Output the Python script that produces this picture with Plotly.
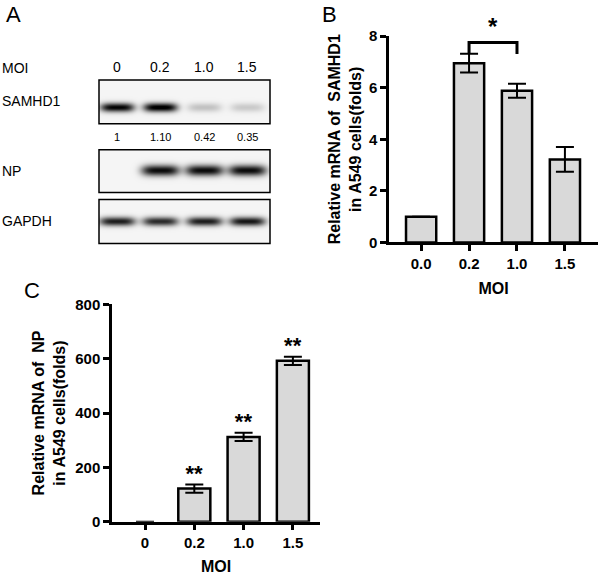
import numpy as np
import plotly.graph_objects as go

# Panel B: SAMHD1 mRNA
moi_b = ["0.0", "0.2", "1.0", "1.5"]
samhd1_mrna = [1.0, 6.95, 5.88, 3.22]
samhd1_err = [0.0, 0.36, 0.27, 0.48]

# Panel C: NP mRNA
moi_c = ["0", "0.2", "1.0", "1.5"]
np_mrna = [0.0, 122, 312, 592]
np_err = [0.0, 15, 15, 15]
np_sig = ["", "**", "**", "**"]

# Panel A: western blot band intensities (0 = none, 1 = darkest)
moi_a = ["0", "0.2", "1.0", "1.5"]
samhd1_band = [0.95, 1.0, 0.2, 0.17]
np_band = [0.0, 0.92, 0.92, 0.92]
gapdh_band = [0.85, 0.8, 0.85, 0.88]
quant = ["1", "1.10", "0.42", "0.35"]

W, H = 598, 575
FONT = "Liberation Sans, Arial"
BAR = "#d9d9d9"


def px(x):
    return x / W


def py(y):
    # screen capture squeezes vertically a little; compensate
    y = (y - 7.9) / 0.973
    return 1 - y / H


fig = go.Figure()


def label(x, y, text, size, xanchor="center", weight="normal"):
    fig.add_annotation(x=px(x), y=py(y), xref="paper", yref="paper", text=text,
                       showarrow=False, xanchor=xanchor, yanchor="middle",
                       font=dict(family=FONT, size=size, color="black", weight=weight))


# ---------- blot panel ----------
lane_x = [117, 160, 204, 247]
blots = [("SAMHD1", samhd1_band, 79, 123, 107, 4.5, 17),
         ("NP", np_band, 149, 192, 170, 5.5, 19),
         ("GAPDH", gapdh_band, 199, 243, 221, 4.5, 18)]
xs = np.arange(99, 271, 1.0)
for i, (name, band, top, bot, cy, hh, hw) in enumerate(blots):
    ys = np.arange(top, bot + 1, 1.0)
    z = np.full((len(ys), len(xs)), 0.04)
    for lx, b in zip(lane_x, band):
        gx = np.exp(-((xs - lx) / hw) ** 4)
        gy = np.exp(-((ys - cy) / hh) ** 2)
        z += b * np.outer(gy, gx)
    z = np.clip(z, 0, 1)
    ax = "" if i == 0 else str(i + 3)
    fig.add_trace(go.Heatmap(x=xs, y=ys, z=z, zmin=0, zmax=1, showscale=False,
                             colorscale=[[0, "white"], [1, "black"]],
                             xaxis="x" + ax, yaxis="y" + ax, hoverinfo="skip"))
    fig.layout["xaxis" + ax] = dict(domain=[px(99), px(270)], range=[99, 270],
                                    visible=False, anchor="y" + ax)
    fig.layout["yaxis" + ax] = dict(domain=[py(bot), py(top)], range=[bot, top],
                                    visible=False, anchor="x" + ax)
    fig.add_shape(type="rect", xref="paper", yref="paper", x0=px(99), x1=px(270),
                  y0=py(bot), y1=py(top), line=dict(color="black", width=1.5))
    label(0, [100, 170, 220][i], name, 14, xanchor="left")

label(0, 67, "MOI", 14, xanchor="left")
for lx, lab, q in zip(lane_x, moi_a, quant):
    label(lx, 66, lab, 14)
    label(lx, 136, q, 11)

# ---------- panel B ----------
fig.add_trace(go.Bar(x=list(range(4)), y=samhd1_mrna, width=0.63, xaxis="x2", yaxis="y2",
                     marker=dict(color=BAR, line=dict(color="black", width=2.5)),
                     error_y=dict(type="data", array=samhd1_err, color="black",
                                  thickness=2, width=9)))
# ---------- panel C ----------
fig.add_trace(go.Bar(x=list(range(4)), y=np_mrna, width=0.65, xaxis="x3", yaxis="y3",
                     marker=dict(color=BAR, line=dict(color="black", width=[0, 2.5, 2.5, 2.5])),
                     error_y=dict(type="data", array=np_err, color="black",
                                  thickness=2, width=9),
                     text=np_sig, textposition="outside", cliponaxis=False,
                     textfont=dict(family=FONT, size=22, color="black", weight="bold")))

bold_tick = dict(family=FONT, size=15, color="black", weight="bold")
title_font = dict(family=FONT, size=16, color="black", weight="bold")
axis_common = dict(showline=True, linecolor="black", linewidth=2.5, ticks="outside",
                   tickwidth=2.5, ticklen=6, tickcolor="black", showgrid=False, zeroline=False,
                   tickfont=bold_tick)
fig.update_layout(
    xaxis2=dict(axis_common, domain=[px(389), 1], range=[-0.67, 3.69], anchor="y2",
                tickvals=list(range(4)), ticktext=moi_b,
                title=dict(text="MOI", font=title_font, standoff=12)),
    yaxis2=dict(axis_common, domain=[py(242), py(35)], range=[0, 8], anchor="x2",
                tickvals=[0, 2, 4, 6, 8],
                title=dict(text="Relative mRNA of  SAMHD1<br>in A549 cells(folds)",
                           font=title_font, standoff=4)),
    xaxis3=dict(axis_common, domain=[px(112), px(320)], range=[-0.67, 3.55], anchor="y3",
                tickvals=list(range(4)), ticktext=moi_c,
                title=dict(text="MOI", font=title_font, standoff=12)),
    yaxis3=dict(axis_common, domain=[py(522), py(304)], range=[0, 800], anchor="x3",
                tickvals=[0, 200, 400, 600, 800],
                title=dict(text="Relative mRNA of  NP<br>in A549 cells(folds)",
                           font=title_font, standoff=6)),
)

# significance bracket in B
fig.add_shape(type="path", xref="x2", yref="y2", path="M 1,7.3 L 1,7.75 L 2,7.75 L 2,7.3",
              line=dict(color="black", width=3))
fig.add_annotation(x=1.5, y=7.75, xref="x2", yref="y2", text="*", showarrow=False,
                   yanchor="bottom", font=dict(family=FONT, size=24, color="black", weight="bold"))

# panel letters
for letter, x, y in [("A", 4, 13), ("B", 320, 13), ("C", 22, 290)]:
    label(x, y, letter, 22, xanchor="left")

fig.update_layout(width=W, height=H, margin=dict(l=0, r=0, t=0, b=0),
                  paper_bgcolor="white", plot_bgcolor="white", showlegend=False)
fig.write_html("out.html", config={"displayModeBar": False},
               post_script="document.body.style.margin='0';")
